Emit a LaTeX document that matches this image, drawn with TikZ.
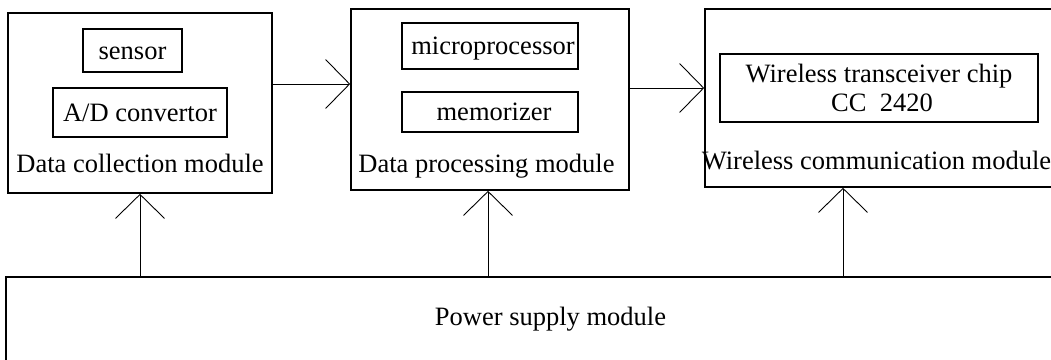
\documentclass[tikz,border=0pt]{standalone}
\usepackage{fontspec}
\setmainfont{Liberation Serif}
\usetikzlibrary{arrows.meta}
\begin{document}
\begin{tikzpicture}[x=1pt,y=-1pt,
  every node/.style={font=\fontsize{26.5}{29}\selectfont, inner sep=0pt},
  module/.style={draw, line width=1.6pt, rectangle},
  part/.style={draw, line width=1.6pt, rectangle, text height=18pt, text depth=1pt},
  label/.style={anchor=base},
  arr/.style={line width=0.9pt, -{Straight Barb[length=24pt,width=49pt,line width=0.9pt]}}
]
\useasboundingbox (0,0) rectangle (1051,359);
\clip (0,0) rectangle (1051,359);
% main modules
\node[module, minimum width=264pt, minimum height=180pt] (box1) at (140,103) {};
\node[module, minimum width=278pt, minimum height=181pt] (box2) at (490,99.5) {};
\node[module, minimum width=365pt, minimum height=178pt] (box3) at (887.5,98) {};
\node[module, minimum width=1064pt, minimum height=103pt] (power) at (538,328.5) {};
% inner parts
\node[part, minimum width=99pt, minimum height=43pt] (sensor) at (132.5,50.5) {sensor};
\node[part, minimum width=174pt, minimum height=49pt] (adc) at (140,112.5) {A/D convertor};
\node[part, minimum width=176pt, minimum height=46pt] (mp) at (490,46) {\hspace{6pt}microprocessor};
\node[part, minimum width=176pt, minimum height=40pt] (mem) at (490,112) {\hspace{8pt}memorizer};
\node[draw, line width=1.6pt, minimum width=318pt, minimum height=68pt, align=center] (chip) at (879,88)
  {\raisebox{0pt}{Wireless transceiver chip}\\\hspace{6pt}CC\ \ 2420};
% module labels
\node[label] (l1) at (140,172) {Data collection module};
\node[label] (l2) at (486.5,172) {Data processing module};
\node[label] (l3) at (876.5,169) {Wireless communication module};
\node[label] (l4) at (550.5,325) {Power supply module};
% connectors
\draw[arr] (box1.east |- 0,84) -- (box2.west |- 0,84);
\draw[arr] (box2.east |- 0,88) -- (box3.west |- 0,88);
\draw[arr] (power.north -| 140,0) -- (box1.south -| 140,0);
\draw[arr] (power.north -| 488,0) -- (box2.south -| 488,0);
\draw[arr] (power.north -| 843,0) -- (box3.south -| 843,0);
\end{tikzpicture}
\end{document}
